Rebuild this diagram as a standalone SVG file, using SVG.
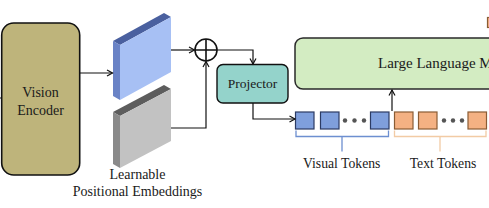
<svg xmlns="http://www.w3.org/2000/svg" width="489" height="208" viewBox="0 0 489 208">
<defs>
<marker id="ah" markerWidth="8" markerHeight="8" refX="6.5" refY="4" orient="auto" markerUnits="userSpaceOnUse">
<path d="M1,1 L6.5,4 L1,7" fill="none" stroke="#111" stroke-width="1.2"/>
</marker>
</defs>
<style>
text{font-family:"Liberation Serif","Times New Roman",serif;fill:#1a1a1a}
.conn{fill:none;stroke:#111;stroke-width:1.2}
.vt{fill:#7f9fdc;stroke:#2c3b63;stroke-width:1.2}
.tt{fill:#f4b183;stroke:#8a5c34;stroke-width:1.2}
.dot{fill:#555}
</style>
<rect width="489" height="208" fill="#fff"/>

<g id="vision-encoder">
<rect x="1.7" y="23" width="78" height="152" rx="12" fill="#beb47b" stroke="#111" stroke-width="1.6"/>
<text x="40.5" y="97" font-size="14" text-anchor="middle">Vision</text>
<text x="40.5" y="115" font-size="14" text-anchor="middle">Encoder</text>
</g>

<g id="visual-features">
<polygon points="113,41 164,13 171,17 120,45" fill="#4a609f"/>
<polygon points="113,41 120,45 120,100 113,96" fill="#6a83c6"/>
<polygon points="120,45 171,17 171,72 120,100" fill="#a7c0f4"/>
</g>

<g id="positional-embeddings">
<polygon points="113,112 164,85 171,89 120,116" fill="#5d5d5d"/>
<polygon points="113,112 120,116 120,168 113,164" fill="#8a8a8a"/>
<polygon points="120,116 171,89 171,141 120,168" fill="#c2c2c2"/>
<text x="137.5" y="178.5" font-size="14" text-anchor="middle">Learnable</text>
<text x="137.5" y="196" font-size="14" text-anchor="middle">Positional Embeddings</text>
</g>

<g id="add">
<circle cx="206" cy="50" r="11" fill="#fff" stroke="#111" stroke-width="1.6"/>
<path d="M195,50 H217 M206,39 V61" stroke="#111" stroke-width="1.6"/>
</g>

<g id="projector">
<rect x="217" y="64.5" width="71" height="38.5" rx="6" fill="#94d3cb" stroke="#111" stroke-width="1.4"/>
<text x="252.5" y="88" font-size="13.5" text-anchor="middle">Projector</text>
</g>

<g id="llm">
<rect x="295" y="38" width="220" height="51" rx="8" fill="#d3ecc2" stroke="#2a2a2a" stroke-width="1.5"/>
<text x="378" y="68" font-size="15">Large Language Model</text>
</g>

<g id="legend-token">
<rect x="487.5" y="17.5" width="16" height="10" class="tt"/>
</g>

<g id="visual-tokens">
<rect x="295.5" y="112" width="18.5" height="17" class="vt"/>
<rect x="320.5" y="112" width="18.5" height="17" class="vt"/>
<circle cx="345" cy="120.5" r="2.2" class="dot"/>
<circle cx="354.5" cy="120.5" r="2.2" class="dot"/>
<circle cx="364" cy="120.5" r="2.2" class="dot"/>
<rect x="370.5" y="112" width="18.5" height="17" class="vt"/>
<path d="M296,130.5 V136.5 H388.5 V130.5 M342,136.5 V151.5" fill="none" stroke="#6d8fd0" stroke-width="1.3"/>
<text x="341.7" y="168" font-size="13.7" text-anchor="middle">Visual Tokens</text>
</g>

<g id="text-tokens">
<rect x="394.5" y="112" width="18.5" height="17" class="tt"/>
<rect x="418.5" y="112" width="18.5" height="17" class="tt"/>
<circle cx="444" cy="120.5" r="2.2" class="dot"/>
<circle cx="453" cy="120.5" r="2.2" class="dot"/>
<circle cx="462" cy="120.5" r="2.2" class="dot"/>
<rect x="468" y="112" width="18.5" height="17" class="tt"/>
<path d="M394.5,130.5 V136.5 H486 V130.5 M440,136.5 V151.5" fill="none" stroke="#f2cba5" stroke-width="1.3"/>
<text x="443" y="168" font-size="13.7" text-anchor="middle">Text Tokens</text>
</g>

<g id="connectors">
<path class="conn" d="M0,98 H2"/>
<path class="conn" d="M80,73 H112.5" marker-end="url(#ah)"/>
<path class="conn" d="M171,50 H194.5" marker-end="url(#ah)"/>
<path class="conn" d="M171,128 H206 V61.5" marker-end="url(#ah)"/>
<path class="conn" d="M217,50 H253 V64" marker-end="url(#ah)"/>
<path class="conn" d="M253,103 V119 H295" marker-end="url(#ah)"/>
<path class="conn" d="M392,111 V90" marker-end="url(#ah)"/>
</g>
</svg>
